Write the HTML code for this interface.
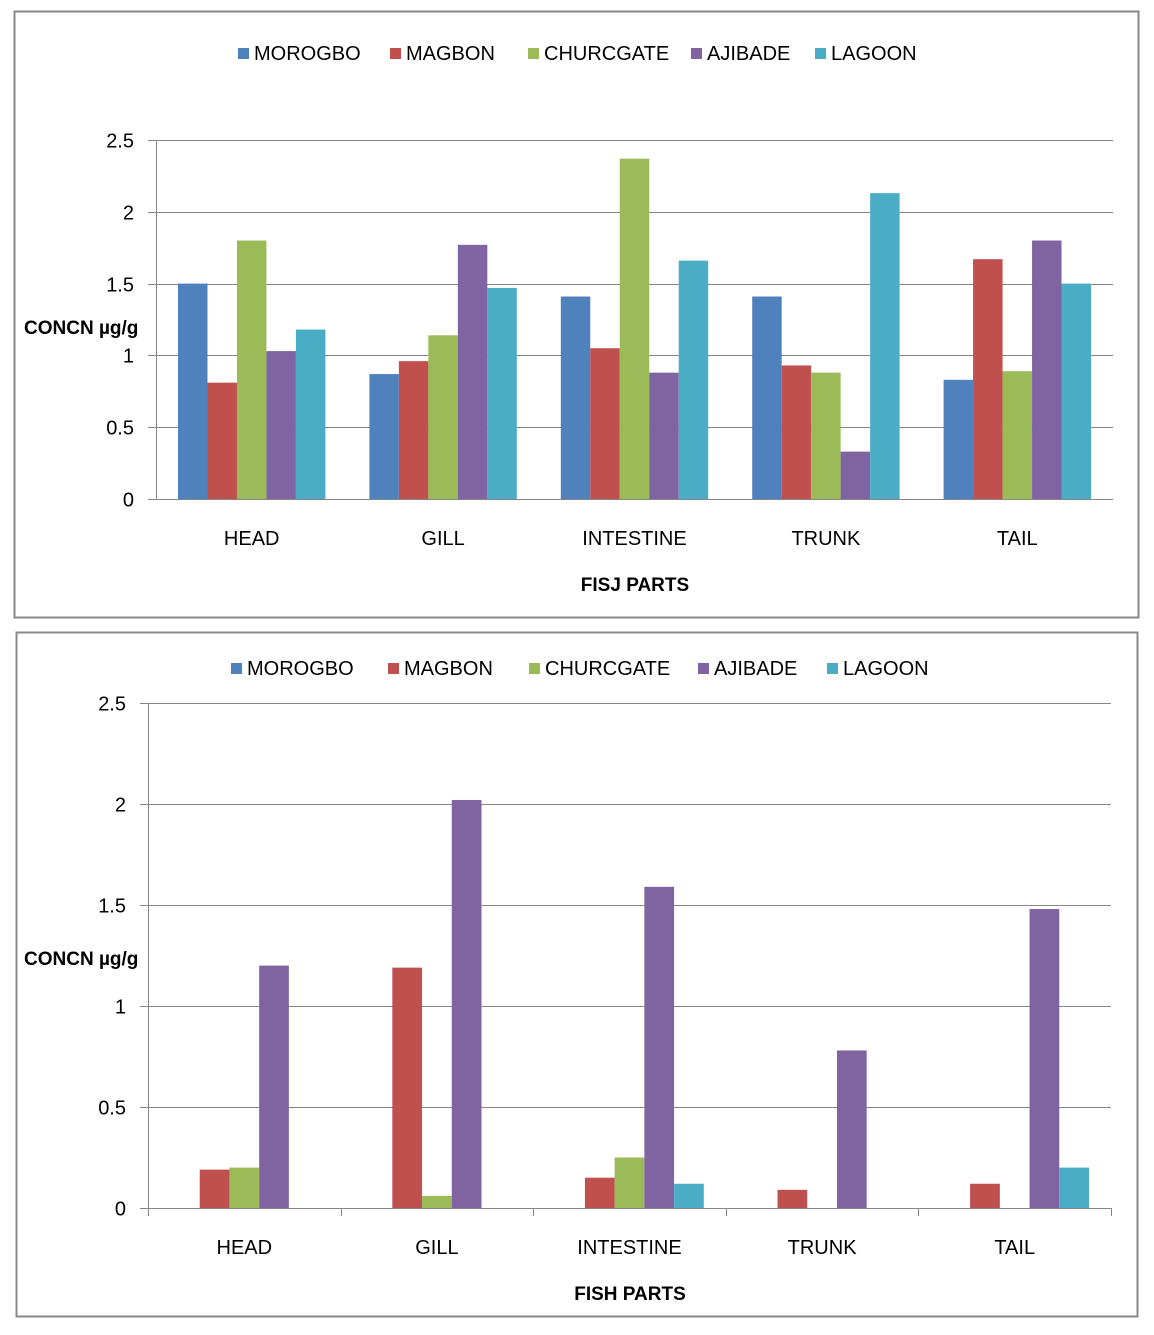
<!DOCTYPE html>
<html><head><meta charset="utf-8"><style>
html,body{margin:0;padding:0;background:#fff;}
svg text{font-family:"Liberation Sans","DejaVu Sans",sans-serif;}
</style></head><body>
<svg id="svg" width="1154" height="1330" xmlns="http://www.w3.org/2000/svg">
<rect x="14.5" y="11.5" width="1124" height="606" fill="#fff" stroke="#888" stroke-width="2"/>
<rect x="16.5" y="632.5" width="1121" height="684" fill="#fff" stroke="#888" stroke-width="2"/>
<g id="c1"></g>
<g id="c2"></g>
</svg>
<script>
const categories = ["HEAD","GILL","INTESTINE","TRUNK","TAIL"];
const seriesNames = ["MOROGBO","MAGBON","CHURCGATE","AJIBADE","LAGOON"];
const colors = ["#4f81bd","#c0504d","#9bbb59","#8064a2","#4bacc6"];
const yTicks = [0,0.5,1,1.5,2,2.5];
const yTickLabels = ["0","0.5","1","1.5","2","2.5"];
// chart 1 values per series (by category)
const c1Morogbo = [1.50,0.87,1.41,1.41,0.83];
const c1Magbon = [0.81,0.96,1.05,0.93,1.67];
const c1Churcgate = [1.80,1.14,2.37,0.88,0.89];
const c1Ajibade = [1.03,1.77,0.88,0.33,1.80];
const c1Lagoon = [1.18,1.47,1.66,2.13,1.50];
// chart 2 values
const c2Morogbo = [0,0,0,0,0];
const c2Magbon = [0.19,1.19,0.15,0.09,0.12];
const c2Churcgate = [0.20,0.06,0.25,0,0];
const c2Ajibade = [1.20,2.02,1.59,0.78,1.48];
const c2Lagoon = [0,0,0.12,0,0.20];

const NS="http://www.w3.org/2000/svg";
function mk(parent,tag,attrs,txt){const e=document.createElementNS(NS,tag);for(const k in attrs)e.setAttribute(k,attrs[k]);if(txt!==undefined)e.textContent=txt;parent.appendChild(e);return e;}

function draw(gid,cfg,series){
  const g=document.getElementById(gid);
  const {x0,x1,y0,y1,ymax}=cfg;
  const yS=v=>y0-(v/ymax)*(y0-y1);
  const cw=(x1-x0)/categories.length;
  const bw=(cw-44)/5;
  // legend
  let lx=cfg.legX;
  seriesNames.forEach((n,i)=>{
    const r=mk(g,'rect',{x:lx,y:cfg.legY-6,width:11,height:11,fill:colors[i]});
    
    
    const t=mk(g,'text',{x:lx+16,y:cfg.legY+6,'font-size':20,fill:'#000'},n);
    
    
    lx+=cfg.legGaps[i];
  });
  // grid + y ticks
  yTicks.forEach((v,i)=>{
    const y=Math.round(yS(v))+0.5;
    const l=mk(g,'line',{x1:x0-8,x2:x1,y1:y,y2:y,stroke:'#868686','stroke-width':1});
    
    
    const t=mk(g,'text',{x:x0-22,y:y+7,'font-size':20,'text-anchor':'end',fill:'#000'},yTickLabels[i]);
    
    
  });
  const ax=mk(g,'line',{x1:x0+0.5,x2:x0+0.5,y1:y1,y2:y0,stroke:'#868686'});
  
  
  if(cfg.xTicks){
    for(let i=0;i<=categories.length;i++){
      const x=Math.round(x0+i*cw)+0.5;
      const l=mk(g,'line',{x1:x,x2:x,y1:y0,y2:y0+8,stroke:'#868686'});
      
      
    }
  }
  categories.forEach((c,ci)=>{
    series.forEach((s,si)=>{
      const v=s[ci]; if(v<=0) return;
      const x=x0+ci*cw+22+si*bw;
      const r=mk(g,'rect',{x:x,y:yS(v),width:bw,height:y0-yS(v),fill:colors[si]});
      
      
    });
    const t=mk(g,'text',{x:x0+(ci+0.5)*cw,y:y0+46,'font-size':20,'text-anchor':'middle',fill:'#000'},c);
    
    
  });
  const xt=mk(g,'text',{x:cfg.xTitleX,y:cfg.xTitleY,'font-size':19,'font-weight':'bold','text-anchor':'middle',fill:'#000'},cfg.xTitle);
  
  
  const yt=mk(g,'text',{x:24,y:cfg.yTitleY,'font-size':19,'font-weight':'bold',fill:'#000'},'CONCN µg/g');
  
  
}
draw('c1',{x0:156,x1:1113,y0:499,y1:140,ymax:2.5,legX:238,legY:54,legGaps:[152,138,163,124,0],xTicks:false,xTitle:'FISJ PARTS',xTitleX:635,xTitleY:591,yTitleY:334},
  [c1Morogbo,c1Magbon,c1Churcgate,c1Ajibade,c1Lagoon]);
draw('c2',{x0:148,x1:1111,y0:1208,y1:703,ymax:2.5,legX:231,legY:669,legGaps:[157,141,169,129,0],xTicks:true,xTitle:'FISH PARTS',xTitleX:630,xTitleY:1300,yTitleY:965},
  [c2Morogbo,c2Magbon,c2Churcgate,c2Ajibade,c2Lagoon]);
</script>
</body></html>
